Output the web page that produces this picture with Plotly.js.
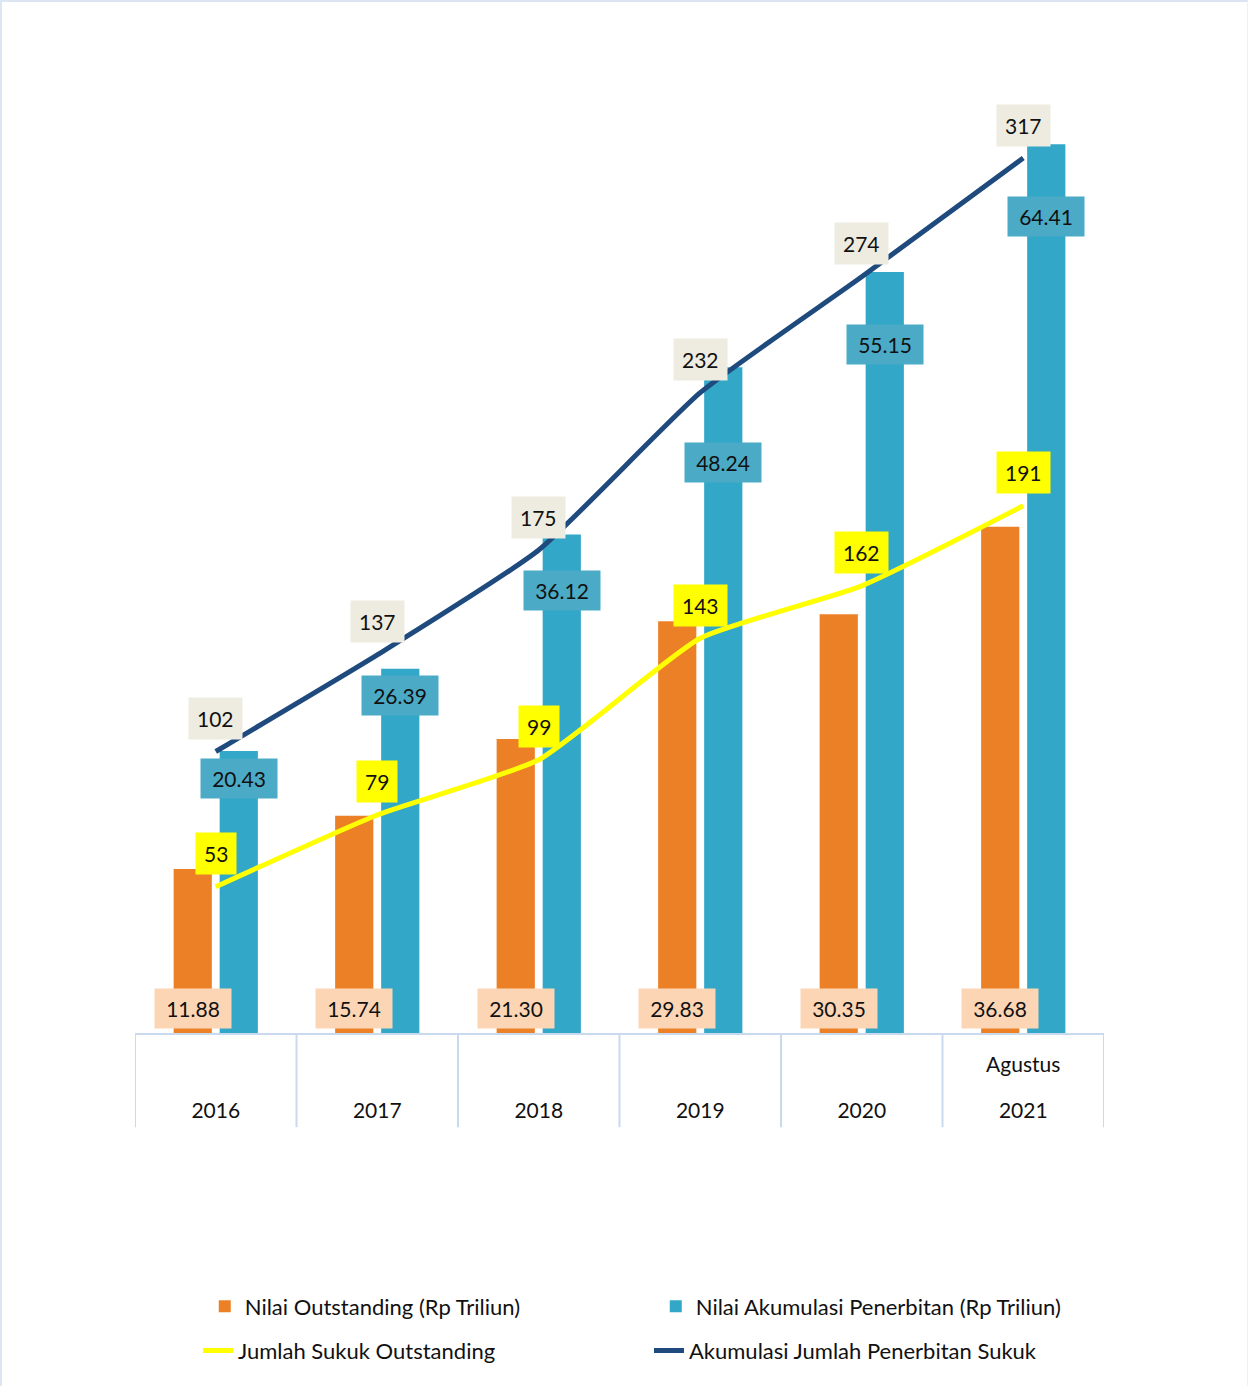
<!DOCTYPE html>
<html>
<head>
<meta charset="utf-8">
<script src="https://cdn.plot.ly/plotly-3.0.1.min.js"></script>
<style>
  html, body { margin: 0; padding: 0; background: #ffffff; }
  #wrap { width: 1248px; height: 1386px; box-sizing: border-box; border-top: 2px solid #DCE6F2; border-left: 2px solid #DCE6F2; border-right: 1px solid #EEF2F7; }
  #chart { width: 1245px; height: 1384px; }
</style>
</head>
<body>
<div id="wrap"><div id="chart"></div></div>
<script>
// ---- data ----
const categories = ["2016", "2017", "2018", "2019", "2020", "Agustus 2021"];
const tickTop = ["\u00a0", "\u00a0", "\u00a0", "\u00a0", "\u00a0", "Agustus"];
const tickBottom = ["2016", "2017", "2018", "2019", "2020", "2021"];
const nilaiOutstanding = [11.88, 15.74, 21.30, 29.83, 30.35, 36.68];
const nilaiAkumulasi = [20.43, 26.39, 36.12, 48.24, 55.15, 64.41];
const jumlahSukukOutstanding = [53, 79, 99, 143, 162, 191];
const akumulasiJumlahPenerbitan = [102, 137, 175, 232, 274, 317];
const orangeLabels = ["11.88", "15.74", "21.30", "29.83", "30.35", "36.68"];
const blueLabels = ["20.43", "26.39", "36.12", "48.24", "55.15", "64.41"];

// ---- styles / offsets ----
const FONT = "Lato, 'Open Sans', sans-serif";
const FS = 21;
const blueLabelShift = [-27, -27, -56, -95, -73, -72];
const cOrange = "#EC8027", cBlue = "#32A7C8", cYellow = "#FFFF00", cNavy = "#1F4A7E";
const axisLine = "#C9DAEE";

const span = t => "<span style='font-size:" + FS + "px'>" + t + "</span>";
const tickLabels = tickTop.map((t, i) => span(t) + "<br><br>" + span(tickBottom[i]));

const traces = [
  { type: "bar", name: "Nilai Outstanding (Rp Triliun)", x: categories, y: nilaiOutstanding,
    marker: { color: cOrange }, yaxis: "y", hoverinfo: "skip", legend: "legend" },
  { type: "bar", name: "Nilai Akumulasi Penerbitan (Rp Triliun)", x: categories, y: nilaiAkumulasi,
    marker: { color: cBlue }, yaxis: "y", hoverinfo: "skip", legend: "legend" },
  { type: "scatter", mode: "lines", name: "Jumlah Sukuk Outstanding", x: categories, y: jumlahSukukOutstanding,
    line: { color: cYellow, width: 5, shape: "spline", smoothing: 0.5 }, yaxis: "y2", legend: "legend2" },
  { type: "scatter", mode: "lines", name: "Akumulasi Jumlah Penerbitan Sukuk", x: categories, y: akumulasiJumlahPenerbitan,
    line: { color: cNavy, width: 5, shape: "spline", smoothing: 0.5 }, yaxis: "y2", legend: "legend2" }
];

// category positions on the category axis are the indices 0..n-1
const annotations = [];
categories.forEach((c, i) => {
  annotations.push({ x: i, y: akumulasiJumlahPenerbitan[i], xref: "x", yref: "y2", yshift: 33,
    text: String(akumulasiJumlahPenerbitan[i]), showarrow: false, bgcolor: "#EEECE1", borderpad: 8,
    font: { family: FONT, size: FS, color: "#111" } });
  annotations.push({ x: i, y: jumlahSukukOutstanding[i], xref: "x", yref: "y2", yshift: 33,
    text: String(jumlahSukukOutstanding[i]), showarrow: false, bgcolor: "#FFFF00", borderpad: 8,
    font: { family: FONT, size: FS, color: "#111" } });
  annotations.push({ x: i, y: nilaiAkumulasi[i], xref: "x", yref: "y", xshift: 23, yshift: blueLabelShift[i],
    text: blueLabels[i], showarrow: false, bgcolor: "#4BABC6", borderpad: 7, width: 62,
    font: { family: FONT, size: FS, color: "#111" } });
  annotations.push({ x: i, y: 0, xref: "x", yref: "y", xshift: -23, yshift: 25,
    text: orangeLabels[i], showarrow: false, bgcolor: "#FCD5B5", borderpad: 7, width: 62,
    font: { family: FONT, size: FS, color: "#111" } });
});

const shapes = [];
for (let i = 0; i <= categories.length; i++) {
  shapes.push({ type: "line", xref: "x", yref: "paper", x0: i - 0.5, x1: i - 0.5, y0: 0, y1: -0.0975,
    line: { color: axisLine, width: 2 }, layer: "below" });
}

const layout = {
  width: 1245, height: 1384,
  margin: { l: 133, r: 143, t: 65, b: 353 },
  paper_bgcolor: "#ffffff", plot_bgcolor: "#ffffff",
  font: { family: FONT, size: FS, color: "#111" },
  barmode: "group", bargap: 0.43, bargroupgap: 0.17,
  xaxis: { type: "category", range: [-0.5, 5.5], tickvals: categories, ticktext: tickLabels,
    showline: true, linecolor: axisLine, linewidth: 2, ticks: "", showgrid: false, zeroline: false,
    tickfont: { family: FONT, size: 18, color: "#111" }, ticklabelstandoff: 15, fixedrange: true },
  yaxis: { range: [0, 70], visible: false, showgrid: false, zeroline: false, fixedrange: true },
  yaxis2: { range: [0, 350], overlaying: "y", side: "right", visible: false, showgrid: false, zeroline: false, fixedrange: true },
  showlegend: true,
  legend: { orientation: "h", x: 0.072, xanchor: "left", y: -0.283, yanchor: "middle", entrywidth: 406, entrywidthmode: "pixels",
    font: { family: FONT, size: 22, color: "#111" }, bgcolor: "rgba(0,0,0,0)" },
  legend2: { orientation: "h", x: 0.065, xanchor: "left", y: -0.329, yanchor: "middle", entrywidth: 406, entrywidthmode: "pixels",
    font: { family: FONT, size: 22, color: "#111" }, bgcolor: "rgba(0,0,0,0)" },
  annotations: annotations,
  shapes: shapes
};

Plotly.newPlot("chart", traces, layout, { displayModeBar: false, staticPlot: true });
</script>
</body>
</html>
